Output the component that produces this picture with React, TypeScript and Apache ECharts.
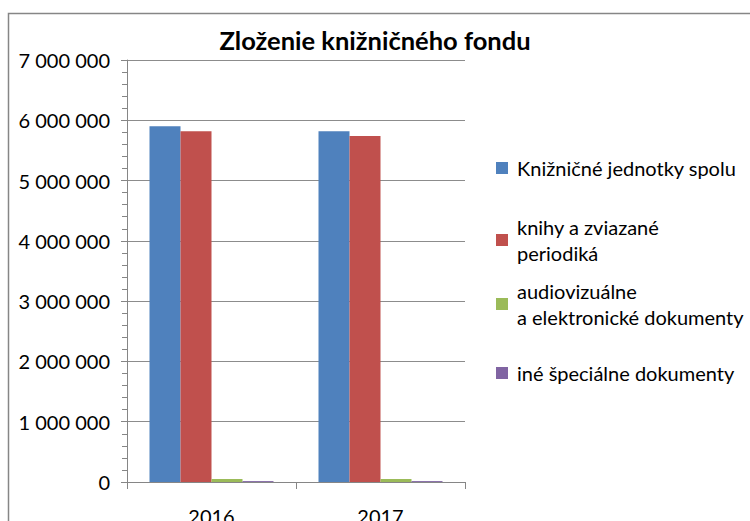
import React, { useEffect, useRef } from "react";
import * as echarts from "echarts";

const title = "Zloženie knižničného fondu";
const categories = ["2016", "2017"];
const seriesNames = [
  "Knižničné jednotky spolu",
  "knihy a zviazané\nperiodiká",
  "audiovizuálne\na elektronické dokumenty",
  "iné špeciálne dokumenty",
];
const totalUnits = [5900000, 5820000];
const booksPeriodicals = [5820000, 5740000];
const audiovisual = [50000, 50000];
const specialDocs = [15000, 15000];
const seriesColors = ["#4F81BD", "#C0504D", "#9BBB59", "#8064A2"];
const yTicks = [0, 1000000, 2000000, 3000000, 4000000, 5000000, 6000000, 7000000];

const FONT = "Lato";
const LH = 26;

export default function App() {
  const ref = useRef<HTMLDivElement>(null);
  useEffect(() => {
    if (!ref.current) return;
    const chart = echarts.init(ref.current, undefined, { renderer: "svg" });
    const values = [totalUnits, booksPeriodicals, audiovisual, specialDocs];
    const legendTops: [number, boolean][] = [
      [168 - LH / 2, false],
      [240 - 1.5 * LH, true],
      [304 - 1.5 * LH, true],
      [373 - LH / 2, false],
    ];
    const legends = seriesNames.map((name, i) => ({
      show: true,
      left: 496,
      top: legendTops[i][0],
      padding: 0,
      orient: "vertical" as const,
      itemWidth: 12,
      itemHeight: 12,
      icon: "rect",
      data: [name],
      textStyle: {
        fontFamily: FONT,
        fontSize: 20,
        color: "#000",
        lineHeight: LH,
        padding: legendTops[i][1] ? [LH, 0, 0, 4] : [0, 0, 0, 4],
      },
    }));
    chart.setOption({
      animation: false,
      backgroundColor: "#fff",
      title: {
        text: title,
        left: "center",
        top: 27,
        padding: 0,
        textStyle: { fontFamily: FONT, fontSize: 25.5, fontWeight: "bold", color: "#000" },
      },
      legend: legends,
      graphic: [
        {
          type: "rect",
          shape: { x: 8.5, y: 13.5, width: 900, height: 700 },
          style: { fill: "none", stroke: "#868686", lineWidth: 1.5 },
          silent: true,
        },
      ],
      grid: {
        left: 127,
        top: 60,
        right: 285,
        bottom: 39,
        containLabel: false,
        outerBoundsMode: "none",
      },
      xAxis: {
        type: "category",
        data: categories,
        axisLine: { show: true, lineStyle: { color: "#868686", width: 1 } },
        axisTick: { show: true, length: 7, lineStyle: { color: "#868686" } },
        axisLabel: { fontFamily: FONT, fontSize: 20, color: "#000", margin: 24 },
      },
      yAxis: {
        type: "value",
        min: yTicks[0],
        max: yTicks[yTicks.length - 1],
        interval: yTicks[1] - yTicks[0],
        axisLine: { show: true, lineStyle: { color: "#868686", width: 1 } },
        axisTick: { show: true, length: 6, lineStyle: { color: "#868686" } },
        minorTick: { show: true, splitNumber: 5, length: 5, lineStyle: { color: "#868686" } },
        splitLine: { show: true, lineStyle: { color: "#8c8c8c", width: 1 } },
        axisLabel: {
          fontFamily: FONT,
          fontSize: 20,
          color: "#000",
          margin: 17,
          formatter: (v: number) => String(v).replace(/\B(?=(\d{3})+(?!\d))/g, " "),
        },
      },
      series: seriesNames.map((name, i) => ({
        name,
        type: "bar",
        data: values[i],
        barWidth: 31,
        barGap: "0%",
        itemStyle: { color: seriesColors[i] },
      })),
    });
    return () => chart.dispose();
  }, []);
  return (
    <div
      ref={ref}
      style={{ position: "fixed", left: 0, top: 0, width: 750, height: 521 }}
    />
  );
}
